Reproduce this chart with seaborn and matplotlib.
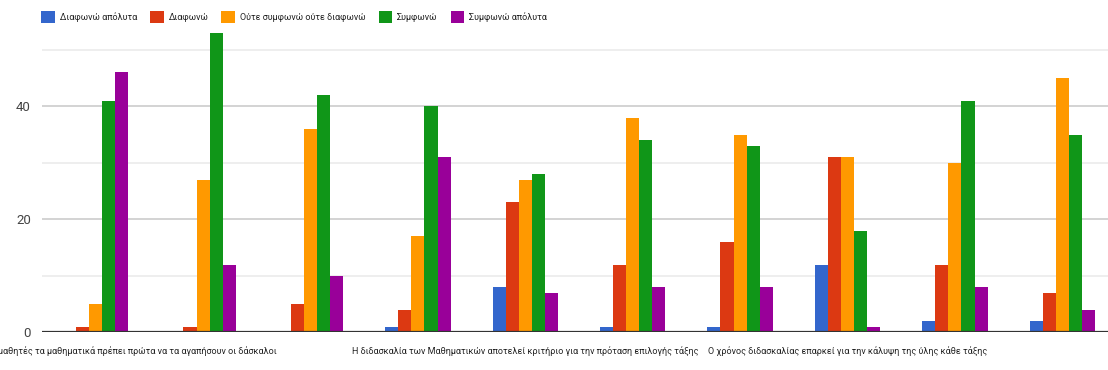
import matplotlib
matplotlib.use("Agg")
import matplotlib.pyplot as plt
from matplotlib.patches import Patch
import seaborn as sns
import pandas as pd

# Survey statements (only some carry a visible axis label)
categories = [f"S{i}" for i in range(1, 11)]
tick_labels = [
    "Για να αγαπήσουν οι μαθητές τα μαθηματικά πρέπει πρώτα να τα αγαπήσουν οι δάσκαλοι",
    "", "", "",
    "Η διδασκαλία των Μαθηματικών αποτελεί κριτήριο για την πρόταση επιλογής τάξης",
    "", "",
    "Ο χρόνος διδασκαλίας επαρκεί για την κάλυψη της ύλης κάθε τάξης",
    "", "",
]

responses = ["Διαφωνώ απόλυτα", "Διαφωνώ", "Ούτε συμφωνώ ούτε διαφωνώ",
             "Συμφωνώ", "Συμφωνώ απόλυτα"]

disagree_strongly = [0, 0, 0, 1, 8, 1, 1, 12, 2, 2]
disagree = [1, 1, 5, 4, 23, 12, 16, 31, 12, 7]
neutral = [5, 27, 36, 17, 27, 38, 35, 31, 30, 45]
agree = [41, 53, 42, 40, 28, 34, 33, 18, 41, 35]
agree_strongly = [46, 12, 10, 31, 7, 8, 8, 1, 8, 4]

colors = ["#3366cc", "#dc3912", "#ff9900", "#109618", "#990099"]

series = [disagree_strongly, disagree, neutral, agree, agree_strongly]
rows = []
for resp, vals in zip(responses, series):
    for cat, v in zip(categories, vals):
        rows.append({"statement": cat, "response": resp, "count": v})
df = pd.DataFrame(rows)

sns.set_theme(style="white")
plt.rcParams["font.family"] = ["Roboto", "DejaVu Sans"]

fig = plt.figure(figsize=(11.08, 3.70), dpi=100)
ax = fig.add_axes([42 / 1108, 37.7 / 370, 1074 / 1108, 310.75 / 370])

sns.barplot(data=df, x="statement", y="count", hue="response",
            hue_order=responses, order=categories, palette=colors,
            width=0.61, linewidth=0, saturation=1, ax=ax, legend=False)

ax.set_xlim(-0.5, 9.5)
ax.set_ylim(0, 55)

# horizontal grid: labelled lines darker, intermediate lines lighter
for y in [10, 30, 50]:
    ax.axhline(y, color="#ebebeb", lw=1.2, zorder=0)
for y in [20, 40]:
    ax.axhline(y, color="#cccccc", lw=1.2, zorder=0)
ax.axhline(0, color="#333333", lw=1.6, zorder=5)

ax.set_yticks([0, 20, 40])
ax.set_yticklabels(["0", "20", "40"])
ax.set_xticks(range(len(categories)))
ax.set_xticklabels(tick_labels)
ax.tick_params(axis="y", length=0, pad=8, labelsize=9.5, labelcolor="#444444")
ax.tick_params(axis="x", length=0, pad=10, labelsize=6.5, labelcolor="#222222")
ax.set_xlabel("")
ax.set_ylabel("")
for s in ax.spines.values():
    s.set_visible(False)

# legend along the top
handles = [Patch(facecolor=c, edgecolor="none") for c in colors]
fig.legend(handles, responses, loc="center left", bbox_to_anchor=(33 / 1108, 1 - 17 / 370),
           ncol=5, frameon=False, fontsize=6.5, handlelength=1.5, handleheight=1.5,
           handletextpad=0.55, columnspacing=1.45, labelcolor="#222222")

fig.savefig("out.png", dpi=100)
